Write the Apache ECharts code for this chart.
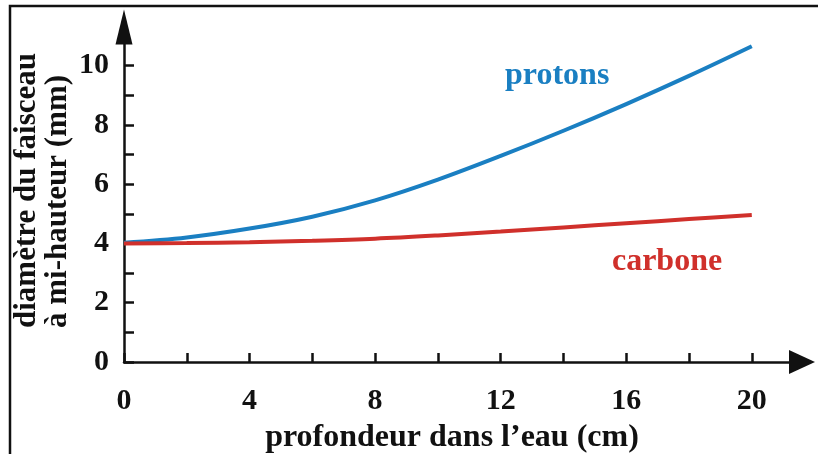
<!DOCTYPE html>
<html>
<head>
<meta charset="utf-8">
<script src="https://cdn.jsdelivr.net/npm/echarts@6/dist/echarts.min.js"></script>
<style>html,body{margin:0;padding:0;background:#fff}#c{width:818px;height:454px}</style>
</head>
<body>
<div id="c"></div>
<script>
const depth = [0, 2, 4, 6, 8, 10, 12, 14, 16, 18, 20];
const protons = [4.02, 4.2, 4.5, 4.9, 5.45, 6.15, 6.95, 7.8, 8.7, 9.65, 10.65];
const carbone = [4.0, 4.01, 4.04, 4.09, 4.16, 4.27, 4.4, 4.54, 4.68, 4.82, 4.96];
const xTicks = [0, 2, 4, 6, 8, 10, 12, 14, 16, 18, 20];
const xLabels = [0, 4, 8, 12, 16, 20];
const yTicks = [0, 1, 2, 3, 4, 5, 6, 7, 8, 9, 10];
const yLabels = [0, 2, 4, 6, 8, 10];
const xName = 'profondeur dans l\u2019eau (cm)';
const yName1 = 'diamètre du faisceau';
const yName2 = 'à mi-hauteur (mm)';
const seriesNames = ['protons', 'carbone'];
const labelPos = [[13.8, 9.65], [17.3, 3.38]];

const font = '"Liberation Serif", "Times New Roman", serif';
const blue = '#1a7fc2';
const red = '#d0302b';

const chart = echarts.init(document.getElementById('c'), null, {renderer: 'canvas'});
chart.setOption({
  animation: false,
  backgroundColor: '#fff',
  grid: {left: 124, right: 16, top: 27, bottom: 92, containLabel: false, outerBoundsMode: 'none'},
  xAxis: {
    type: 'value', min: 0, max: 21.6,
    splitLine: {show: false},
    axisLine: {lineStyle: {color: '#111', width: 2.5}, symbol: ['none', 'triangle'], symbolSize: [24, 26]},
    axisTick: {inside: true, length: 9, lineStyle: {color: '#111', width: 2.5}, customValues: xTicks},
    axisLabel: {customValues: xLabels, margin: 24, fontFamily: font, fontWeight: 'bold', fontSize: 30, color: '#111'},
    name: xName, nameLocation: 'middle', nameGap: 60,
    nameTextStyle: {fontFamily: font, fontWeight: 'bold', fontSize: 32, color: '#111', padding: [0, 22, 0, 0]}
  },
  yAxis: {
    type: 'value', min: 0, max: 11.3,
    splitLine: {show: false},
    axisLine: {lineStyle: {color: '#111', width: 2.5}, symbol: ['none', 'triangle'], symbolSize: [17, 35]},
    axisTick: {inside: true, length: 10, lineStyle: {color: '#111', width: 2.5}, customValues: yTicks},
    axisLabel: {customValues: yLabels, margin: 15, fontFamily: font, fontWeight: 'bold', fontSize: 30, color: '#111'}
  },
  graphic: [
    {type: 'rect', shape: {x: 10, y: 6, width: 830, height: 470}, style: {fill: 'none', stroke: '#111', lineWidth: 2.5}, z: 100},
    {type: 'text', x: 27, y: 328, rotation: Math.PI / 2,
     style: {text: yName1, font: 'bold 31px ' + font, fill: '#111', textAlign: 'left', textVerticalAlign: 'middle'}},
    {type: 'text', x: 58, y: 328, rotation: Math.PI / 2,
     style: {text: yName2, font: 'bold 31px ' + font, fill: '#111', textAlign: 'left', textVerticalAlign: 'middle'}}
  ],
  series: [
    {
      name: seriesNames[0], type: 'line', smooth: 0.35, showSymbol: false,
      data: depth.map((d, i) => [d, protons[i]]),
      lineStyle: {color: blue, width: 4}, itemStyle: {color: blue},
      markPoint: {symbol: 'circle', symbolSize: 0, data: [{coord: labelPos[0]}],
        label: {show: true, position: 'inside', formatter: seriesNames[0], fontFamily: font, fontWeight: 'bold', fontSize: 32, color: blue}}
    },
    {
      name: seriesNames[1], type: 'line', smooth: 0.35, showSymbol: false,
      data: depth.map((d, i) => [d, carbone[i]]),
      lineStyle: {color: red, width: 4}, itemStyle: {color: red},
      markPoint: {symbol: 'circle', symbolSize: 0, data: [{coord: labelPos[1]}],
        label: {show: true, position: 'inside', formatter: seriesNames[1], fontFamily: font, fontWeight: 'bold', fontSize: 32, color: red}}
    }
  ]
});
</script>
</body>
</html>
